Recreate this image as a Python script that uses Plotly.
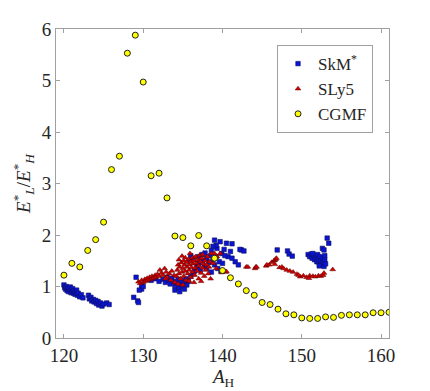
import plotly.graph_objects as go

# CGMF: one value per heavy-fragment mass
cgmf_a = list(range(120, 162))
cgmf_ratio = [1.22, 1.45, 1.38, 1.70, 1.91, 2.25, 3.27, 3.53, 5.53, 5.88,
              4.97, 3.15, 3.20, 2.72, 1.98, 1.95, 1.79, 1.99, 1.79, 1.55,
              1.31, 1.17, 1.05, 0.92, 0.83, 0.69, 0.65, 0.56, 0.47, 0.45,
              0.39, 0.38, 0.38, 0.41, 0.40, 0.44, 0.45, 0.45, 0.45, 0.49,
              0.49, 0.50]

# SkM* points
skm_a = [120.0, 120.1, 120.2, 120.3, 120.4, 120.5, 120.6, 120.7, 120.8, 120.9,
         121.0, 121.1, 121.2, 121.3, 121.4, 121.5, 121.6, 121.7, 121.8, 122.0,
         122.2, 122.4, 123.1, 123.2, 123.4, 123.5, 123.7, 123.8, 124.0, 124.1,
         124.3, 124.4, 124.6, 124.8, 125.0, 125.4, 125.7,
         128.8, 129.3, 129.4, 129.1, 129.8, 129.8, 129.5, 130.0,
         131.0, 131.5, 132.0, 132.5, 132.8, 133.0, 133.2, 133.4, 133.6, 133.8,
         134.0, 134.0, 134.2, 134.4, 134.5, 134.7, 134.8, 135.0, 135.2, 135.4,
         135.5, 135.7, 135.2, 134.6, 136.0, 136.3,
         136.5, 136.8, 137.0, 137.2, 137.5, 137.7, 138.0, 138.0, 138.3, 138.5,
         138.6, 138.8, 139.0, 139.2, 139.4, 139.6, 139.8, 140.0, 137.0, 137.4,
         137.8, 136.3, 136.0, 135.8,
         139.0, 139.7, 140.5, 141.2, 142.4, 139.3, 139.9, 140.7, 141.6, 142.0,
         142.2, 142.7, 139.2, 140.2, 141.0, 138.8, 140.3, 141.2, 138.6,
         146.9, 148.2, 148.4, 148.8, 153.2, 153.4, 152.6, 152.8,
         150.8, 151.0, 151.2, 151.3, 151.5, 151.6, 151.8, 151.9, 152.0, 152.1,
         152.2, 152.3, 152.4, 152.5, 152.6, 152.7, 152.8, 152.9, 153.0, 151.4,
         152.2, 152.9]
skm_ratio = [1.03, 0.98, 0.95, 1.00, 0.92, 0.97, 0.90, 0.95, 0.99, 0.88,
             0.93, 0.96, 0.87, 0.91, 0.85, 0.89, 0.93, 0.83, 0.87, 0.80,
             0.84, 0.78, 0.83, 0.76, 0.79, 0.72, 0.75, 0.70, 0.73, 0.67,
             0.71, 0.64, 0.68, 0.62, 0.66, 0.68, 0.65,
             0.79, 0.72, 0.69, 1.18, 1.03, 0.95, 0.93, 1.00,
             1.12, 1.15, 1.10, 1.14, 1.08, 1.18, 1.12, 1.05, 1.16, 1.10,
             1.02, 0.93, 1.08, 1.14, 0.98, 1.04, 1.12, 1.00, 1.08, 1.15,
             1.03, 1.10, 0.95, 0.90, 1.20, 1.25,
             1.30, 1.38, 1.45, 1.32, 1.50, 1.40, 1.55, 1.35, 1.47, 1.60,
             1.28, 1.52, 1.42, 1.58, 1.35, 1.48, 1.30, 1.45, 1.58, 1.62,
             1.65, 1.55, 1.60, 1.50,
             1.90, 1.87, 1.84, 1.83, 1.71, 1.74, 1.64, 1.58, 1.48, 1.42,
             1.72, 1.69, 1.80, 1.72, 1.68, 1.78, 1.60, 1.55, 1.70,
             1.71, 1.69, 1.63, 1.59, 1.94, 1.84, 1.74, 1.71,
             1.62, 1.58, 1.63, 1.55, 1.60, 1.52, 1.57, 1.48, 1.62, 1.53,
             1.45, 1.58, 1.50, 1.42, 1.55, 1.47, 1.39, 1.52, 1.44, 1.64,
             1.40, 1.60]

# SLy5 points
sly_a = [129.4, 129.6, 129.8, 130.0, 130.2, 130.3, 130.5, 130.6, 130.8, 131.0,
         131.1, 131.3, 131.5, 131.6, 131.8, 132.0, 132.1, 132.3, 132.5, 132.7,
         132.9, 133.0, 133.3, 133.6, 133.9, 133.5, 132.8,
         134.2, 134.3, 134.4, 134.5, 134.5, 134.6, 134.7, 134.8, 134.9, 134.9,
         135.0, 135.1, 135.1, 135.2, 135.3, 135.3, 135.4, 135.5, 135.5, 135.6,
         135.7, 135.8, 135.8, 135.9, 136.0, 136.0, 136.1, 136.2, 136.2, 136.3,
         136.4, 136.5, 136.5, 136.6, 136.7, 136.8, 136.9, 137.0, 137.0, 137.1,
         137.2, 137.3, 137.4, 137.5, 137.5, 137.6, 137.7, 137.8, 137.9, 138.0,
         138.1, 138.2, 138.3, 138.4, 138.6, 138.8, 139.3, 139.0, 139.7, 139.9,
         140.4, 140.5, 134.0, 134.4, 135.0, 135.8, 136.4, 137.3, 138.5, 139.2,
         143.0, 143.2, 144.1, 144.2, 144.3, 145.5, 145.6, 145.9, 146.2, 146.5,
         146.6, 146.7, 146.8, 146.6, 147.2, 147.5, 147.7, 148.1, 148.5, 148.9,
         149.4, 149.8, 150.2, 150.6, 151.0, 151.4, 151.7, 152.1, 152.4, 152.7,
         152.8, 153.9, 149.6, 150.9]
sly_ratio = [1.09, 1.06, 1.12, 1.08, 1.14, 1.10, 1.16, 1.12, 1.18, 1.14,
             1.20, 1.16, 1.22, 1.18, 1.24, 1.20, 1.32, 1.26, 1.22, 1.35,
             1.28, 1.18, 1.25, 1.30, 1.22, 1.12, 1.15,
             1.20, 1.32, 1.42, 1.25, 1.52, 1.38, 1.15, 1.46, 1.59, 1.28,
             1.35, 1.50, 1.20, 1.42, 1.56, 1.30, 1.12, 1.47, 1.38, 1.25,
             1.53, 1.42, 1.32, 1.64, 1.48, 1.18, 1.37, 1.56, 1.28, 1.44,
             1.50, 1.22, 1.36, 1.58, 1.45, 1.30, 1.52, 1.40, 1.15, 1.60,
             1.48, 1.26, 1.55, 1.36, 1.62, 1.44, 1.20, 1.50, 1.32, 1.42,
             1.58, 1.25, 1.38, 1.48, 1.64, 1.45, 1.58, 1.64, 1.64, 1.27,
             1.28, 1.29, 1.08, 1.05, 1.03, 1.10, 1.08, 1.10, 1.15, 1.35,
             1.38, 1.38, 1.35, 1.38, 1.38, 1.40, 1.42, 1.42, 1.47, 1.50,
             1.51, 1.53, 1.55, 1.43, 1.37, 1.38, 1.35, 1.32, 1.30, 1.28,
             1.24, 1.19, 1.21, 1.18, 1.21, 1.20, 1.19, 1.21, 1.20, 1.22,
             1.26, 1.33, 1.22, 1.16]

serif = "Liberation Serif"

fig = go.Figure()
fig.add_trace(go.Scatter(
    x=skm_a, y=skm_ratio, mode="markers", name="SkM<sup>*</sup>",
    marker=dict(symbol="square", size=4.5, color="#0a14d8",
                line=dict(color="#10105a", width=0.6)),
))
fig.add_trace(go.Scatter(
    x=sly_a, y=sly_ratio, mode="markers", name="SLy5",
    marker=dict(symbol="triangle-up", size=5, color="#d40000",
                line=dict(color="#5a0000", width=0.5)),
))
fig.add_trace(go.Scatter(
    x=cgmf_a, y=cgmf_ratio, mode="markers", name="CGMF",
    marker=dict(symbol="circle", size=6, color="#ffff00",
                line=dict(color="#222222", width=1)),
))

axis_style = dict(
    showgrid=False, zeroline=False, showline=True, mirror="ticks",
    linecolor="#a0a0a0", linewidth=1, ticks="inside", ticklen=4,
    tickcolor="#a0a0a0", tickfont=dict(family=serif, size=19, color="#262626"),
    automargin=False,
)

fig.update_layout(
    width=430, height=391,
    margin=dict(l=56, r=41, t=29, b=53),
    plot_bgcolor="white", paper_bgcolor="white",
    font=dict(family=serif, size=18, color="#262626"),
    legend=dict(x=0.952, y=0.948, xanchor="right", yanchor="top",
                bordercolor="#a0a0a0", borderwidth=1, bgcolor="white",
                font=dict(family=serif, size=17), itemwidth=30,
                tracegroupgap=0),
    annotations=[dict(text="<i>A</i><sub>H</sub>", xref="paper", yref="paper",
                      x=0.5, y=-0.085, xanchor="center", yanchor="top",
                      showarrow=False, font=dict(family=serif, size=19))],
)
fig.update_xaxes(axis_style, range=[119, 161], tickvals=[120, 130, 140, 150, 160])
fig.update_yaxes(axis_style, range=[0, 6], tickvals=[0, 1, 2, 3, 4, 5, 6],
                 title=dict(text="<i>E</i><sup>*</sup><sub><i>L</i></sub>/<i>E</i><sup>*</sup><sub><i>H</i></sub>",
                            standoff=6, font=dict(family=serif, size=19)))

# drop the default page margin so the figure sits at the window's corner
fig.write_html("out.html", config={"displayModeBar": False},
               post_script="document.body.style.margin='0';")
